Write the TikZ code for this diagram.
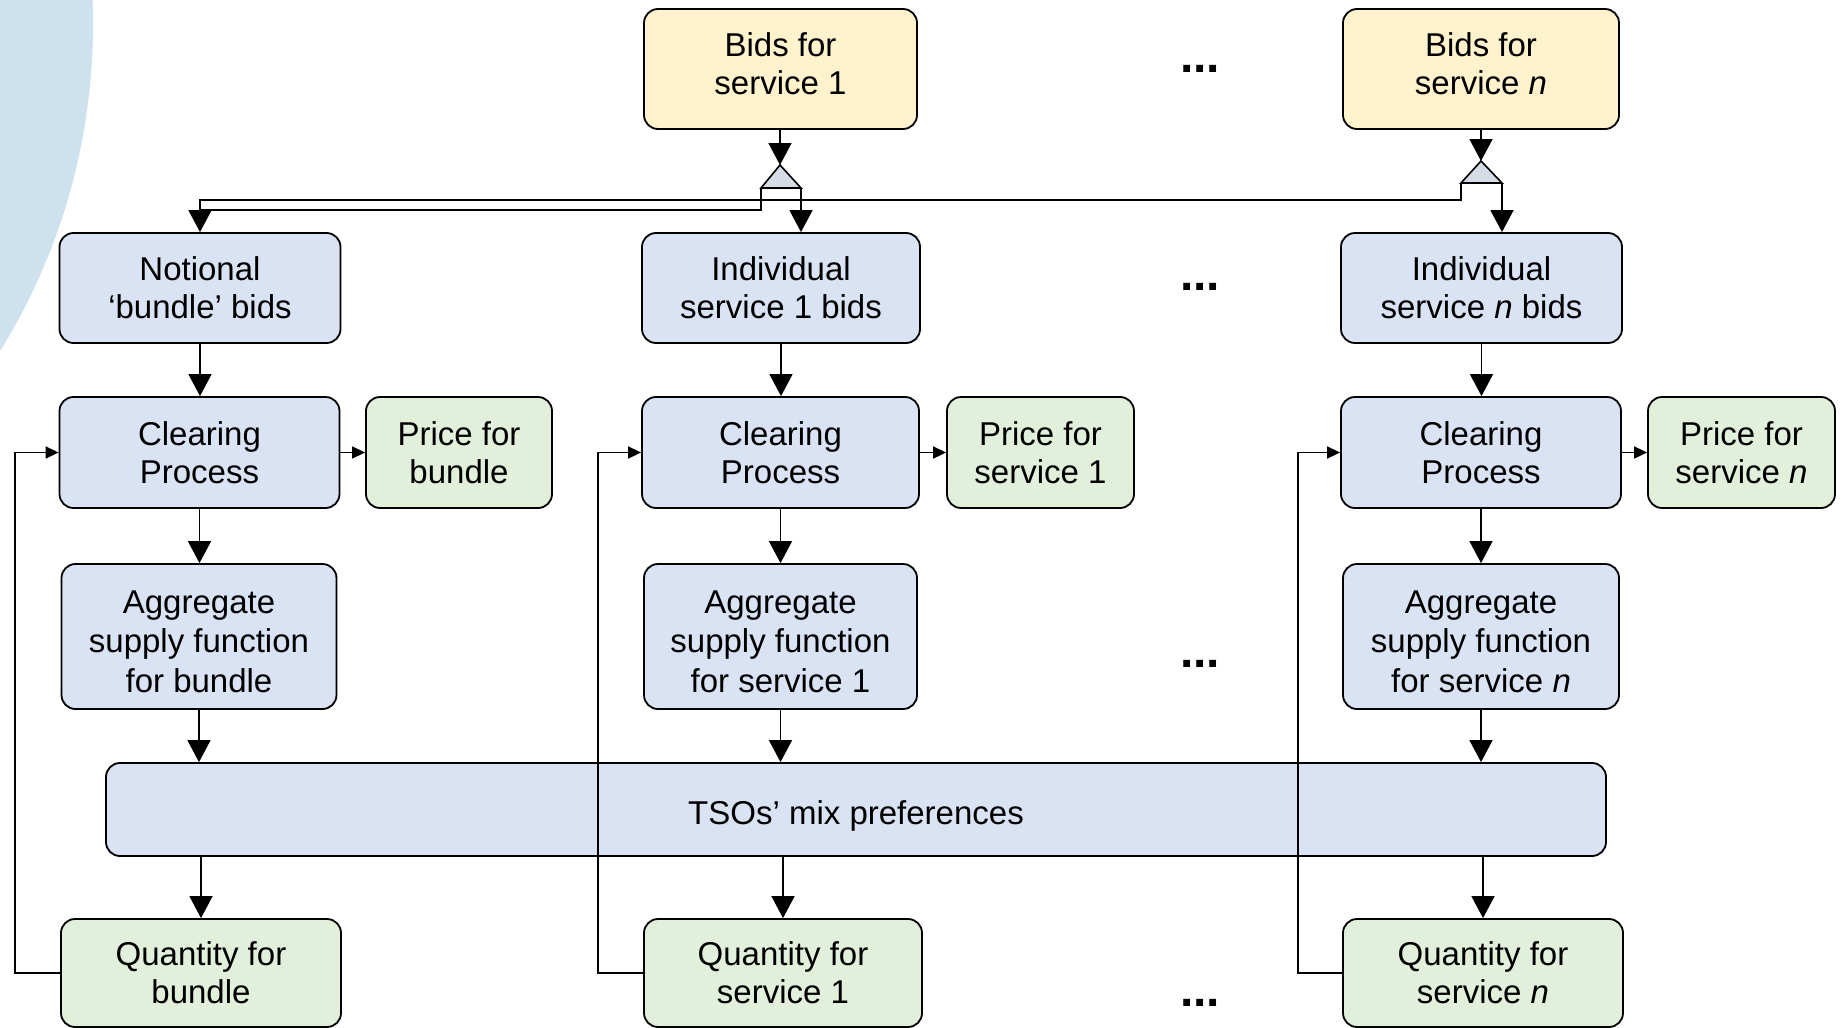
\documentclass[tikz,border=0pt]{standalone}
\usepackage{fontspec}
\setmainfont{Liberation Sans}
\usetikzlibrary{arrows.meta}
\definecolor{bgarc}{RGB}{206,225,239}
\definecolor{yel}{RGB}{255,242,204}
\definecolor{blu}{RGB}{218,227,243}
\definecolor{grn}{RGB}{226,239,218}
\definecolor{tri}{RGB}{214,220,229}
\begin{document}
\begin{tikzpicture}[x=0.5pt,y=-0.5pt,
 box/.style={draw=black, line width=0.9pt, rounded corners=7pt, align=center, inner sep=0pt, font=\fontsize{16.5}{19}\selectfont},
 ybox/.style={box, fill=yel, text depth=5pt},
 bbox/.style={box, fill=blu},
 abox/.style={bbox, font=\fontsize{16.5}{19.7}\selectfont, text height=56pt},
 gbox/.style={box, fill=grn},
 sz/.style 2 args={minimum width={#1*0.5pt}, minimum height={#2*0.5pt}},
 conn/.style={line width=0.8pt},
 big/.style={conn, -{Triangle[width=11.5pt,length=11pt]}},
 small/.style={conn, -{Triangle[width=6pt,length=6.5pt]}},
 dots/.style={font=\fontsize{24}{26}\selectfont\bfseries, inner sep=0pt}
]
\useasboundingbox (0,0) rectangle (1843,1028);
\begin{scope}
\clip (0,0) rectangle (1843,1028);
\fill[bgarc] (-528,24) circle[radius=310.5pt];
\end{scope}

% top row
\node[ybox, sz={273}{120}] (bids1) at (780.5,69) {Bids for\\service 1};
\node[ybox, sz={276}{120}] (bidsn) at (1481,69) {Bids for\\service \textit{n}};

% second row
\node[bbox, sz={281}{110}] (bundle) at (200,288) {Notional\\‘bundle’ bids};
\node[bbox, sz={278}{110}] (ind1) at (781,288) {Individual\\service 1 bids};
\node[bbox, sz={281}{110}] (indn) at (1481.5,288) {Individual\\service \textit{n} bids};

% clearing row
\node[bbox, sz={280}{111}] (clrA) at (199.5,452.5) {Clearing\\Process};
\node[gbox, sz={186}{111}] (priceA) at (459,452.5) {Price for\\bundle};
\node[bbox, sz={277}{111}] (clrB) at (780.5,452.5) {Clearing\\Process};
\node[gbox, sz={187}{111}] (priceB) at (1040.5,452.5) {Price for\\service 1};
\node[bbox, sz={280}{111}] (clrC) at (1481,452.5) {Clearing\\Process};
\node[gbox, sz={187}{111}] (priceC) at (1741.5,452.5) {Price for\\service \textit{n}};

% aggregate row
\node[abox, sz={275}{145}] (aggA) at (199,636.5) {Aggregate\\supply function\\for bundle};
\node[abox, sz={273}{145}] (aggB) at (780.5,636.5) {Aggregate\\supply function\\for service 1};
\node[abox, sz={276}{145}] (aggC) at (1481,636.5) {Aggregate\\supply function\\for service \textit{n}};

% TSO
\node[bbox, sz={1500}{93}, text height=18pt] (tso) at (856,809.5) {TSOs’ mix preferences};

% quantity row
\node[gbox, sz={280}{108}] (qA) at (201,973) {Quantity for\\bundle};
\node[gbox, sz={278}{108}] (qB) at (783,973) {Quantity for\\service 1};
\node[gbox, sz={280}{108}] (qC) at (1483,973) {Quantity for\\service \textit{n}};

% dots
\node[dots] (d1) at (1200,69) {...};
\node[dots] (d2) at (1200,287) {...};
\node[dots] (d3) at (1200,664) {...};
\node[dots] (d4) at (1200,1003) {...};

% splitters
\coordinate (t1a) at (780,165);
\coordinate (t1l) at (761,188);
\coordinate (t1r) at (801,188);
\coordinate (tna) at (1481,161);
\coordinate (tnl) at (1461,183);
\coordinate (tnr) at (1502,183);
\coordinate (j1) at (200,210);
\coordinate (j2) at (200,200);

\draw[big] (bids1.south -| t1a) -- (t1a);
\draw[big] (bidsn.south -| tna) -- (tna);
\draw[conn] (t1l) |- (j1);
\draw[big] (tnl) |- (j2) -- (bundle.north);
\draw[big] (t1r) -- (t1r |- ind1.north);
\draw[big] (tnr) -- (tnr |- indn.north);
\draw[conn, fill=tri] (t1a) -- (t1l) -- (t1r) -- cycle;
\draw[conn, fill=tri] (tna) -- (tnl) -- (tnr) -- cycle;

% vertical flow
\draw[big] (bundle.south) -- (bundle.south |- clrA.north);
\draw[big] (ind1.south) -- (ind1.south |- clrB.north);
\draw[big] (indn.south) -- (indn.south |- clrC.north);
\draw[big] (clrA.south) -- (clrA.south |- aggA.north);
\draw[big] (clrB.south) -- (clrB.south |- aggB.north);
\draw[big] (clrC.south) -- (clrC.south |- aggC.north);
\draw[big] (aggA.south) -- (aggA.south |- tso.north);
\draw[big] (aggB.south) -- (aggB.south |- tso.north);
\draw[big] (aggC.south) -- (aggC.south |- tso.north);
\draw[big] (qA.north |- tso.south) -- (qA.north);
\draw[big] (qB.north |- tso.south) -- (qB.north);
\draw[big] (qC.north |- tso.south) -- (qC.north);

% prices
\draw[small] (clrA.east) -- (priceA.west);
\draw[small] (clrB.east) -- (priceB.west);
\draw[small] (clrC.east) -- (priceC.west);

% feedback
\draw[small] (qA.west) -- ++(-45,0) |- (clrA.west);
\draw[small] (qB.west) -- ++(-45,0) |- (clrB.west);
\draw[small] (qC.west) -- ++(-44,0) |- (clrC.west);
\end{tikzpicture}
\end{document}
